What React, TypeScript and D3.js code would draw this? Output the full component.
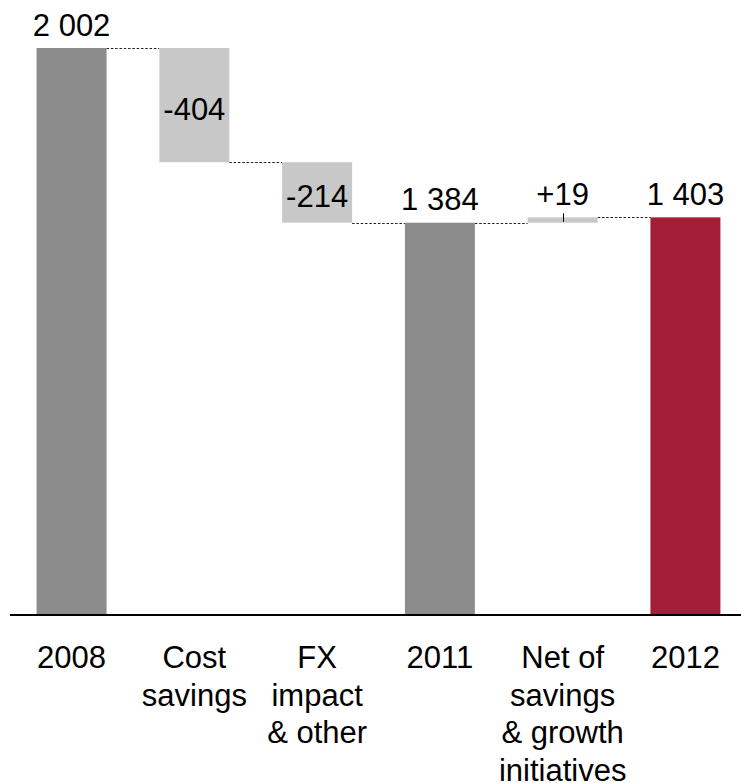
import React from "react";
import * as d3 from "d3";

const categories: string[] = [
  "2008",
  "Cost\nsavings",
  "FX\nimpact\n& other",
  "2011",
  "Net of\nsavings\n& growth\ninitiatives",
  "2012",
];
const values: number[] = [2002, -404, -214, 1384, 19, 1403];
const kinds: string[] = ["total", "delta", "delta", "total", "delta", "final"];

const W = 741;
const H = 783;
const FONT = "'Liberation Sans', Arial, Helvetica, sans-serif";
const FS = 31;
const LINE_H = 37.6;

const colorByKind: Record<string, string> = {
  total: "#8c8c8c",
  delta: "#c8c8c8",
  final: "#a21d38",
};

const locale = d3.formatLocale({
  decimal: ".",
  thousands: "\u00a0",
  grouping: [3],
  currency: ["", ""],
  minus: "-",
});
const fmtTotal = locale.format(",d");
const fmtDelta = locale.format("+,d");

export default function App() {
  // compute running start/end
  let running = 0;
  const bars = values.map((v, i) => {
    const kind = kinds[i];
    let start: number, end: number;
    if (kind === "delta") {
      start = running;
      end = running + v;
    } else {
      start = 0;
      end = v;
    }
    running = end;
    return { i, cat: categories[i], v, kind, start, end };
  });

  const maxV = d3.max(bars, (b) => Math.max(b.start, b.end)) as number;

  const x = d3
    .scaleBand<string>()
    .domain(categories)
    .range([14, 743])
    .paddingInner(0.43)
    .paddingOuter(0.184);

  const y = d3.scaleLinear().domain([0, maxV]).range([614, 48]);

  const axisY = 615;

  return (
    <svg
      width={W}
      height={H}
      style={{ position: "absolute", left: 0, top: 0, background: "#fff" }}
      fontFamily={FONT}
    >
      <rect x={0} y={0} width={W} height={H} fill="#fff" />
      {/* connectors */}
      {bars.slice(0, -1).map((b, i) => {
        const next = bars[i + 1];
        const x1 = (x(b.cat) as number) + x.bandwidth();
        const x2 = x(next.cat) as number;
        const yy = Math.round(y(b.end)) + 0.5;
        return (
          <line
            key={"c" + i}
            x1={x1}
            x2={x2}
            y1={yy}
            y2={yy}
            stroke="#222"
            strokeWidth={1}
            strokeDasharray="2.5,1.8"
          />
        );
      })}
      {/* bars */}
      {bars.map((b) => {
        const top = y(Math.max(b.start, b.end));
        const bot = y(Math.min(b.start, b.end));
        return (
          <rect
            key={"b" + b.i}
            x={x(b.cat)}
            y={top}
            width={x.bandwidth()}
            height={Math.max(bot - top, 1)}
            fill={colorByKind[b.kind]}
          />
        );
      })}
      {/* value labels */}
      {bars.map((b) => {
        const cx = (x(b.cat) as number) + x.bandwidth() / 2;
        const top = y(Math.max(b.start, b.end));
        const bot = y(Math.min(b.start, b.end));
        const h = bot - top;
        const isDelta = b.kind === "delta";
        const label = isDelta ? fmtDelta(b.v) : fmtTotal(b.v);
        if (isDelta && h > FS) {
          return (
            <text
              key={"l" + b.i}
              x={cx}
              y={(top + bot) / 2 + 14.5}
              textAnchor="middle"
              fontSize={FS}
              fill="#000"
            >
              {label}
            </text>
          );
        }
        return (
          <g key={"l" + b.i}>
            <text
              x={cx}
              y={top - 12.3}
              textAnchor="middle"
              fontSize={FS}
              fill="#000"
            >
              {label}
            </text>
            {isDelta && (
              <line
                x1={Math.round(cx) + 0.5}
                x2={Math.round(cx) + 0.5}
                y1={top - 4}
                y2={top + 4.5}
                stroke="#000"
                strokeWidth={1}
              />
            )}
          </g>
        );
      })}
      {/* axis line */}
      <line x1={10} x2={W} y1={axisY} y2={axisY} stroke="#000" strokeWidth={2} />
      {/* category labels */}
      {bars.map((b) => {
        const cx = (x(b.cat) as number) + x.bandwidth() / 2;
        const lines = b.cat.split("\n");
        return (
          <text
            key={"t" + b.i}
            x={cx}
            y={668}
            textAnchor="middle"
            fontSize={FS}
            fill="#000"
          >
            {lines.map((ln, k) => (
              <tspan key={k} x={cx} dy={k === 0 ? 0 : LINE_H}>
                {ln}
              </tspan>
            ))}
          </text>
        );
      })}
    </svg>
  );
}
